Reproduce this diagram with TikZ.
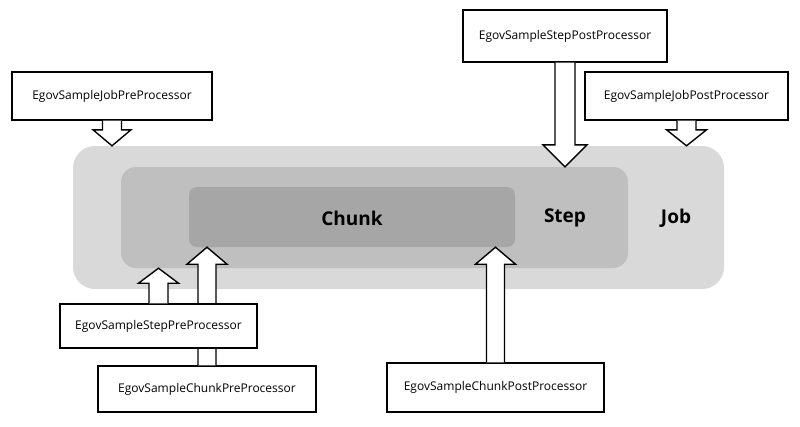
\documentclass[tikz,border=0pt]{standalone}
\usepackage{fontspec}
\setmainfont{Open Sans}
\usetikzlibrary{calc}
\definecolor{jobc}{HTML}{D9D9D9}
\definecolor{stepc}{HTML}{BFBFBF}
\definecolor{chunkc}{HTML}{A6A6A6}
% block arrow: #1 start, #2 tip, #3 half shaft, #4 half head, #5 head length
\newcommand\blockarr[5]{%
  \draw[arr] let \p1=(#1), \p2=(#2), \n1={ifthenelse(\y2>\y1,1,-1)} in
    ({\x1-#3},\y1) -- ({\x1-#3},{\y2-\n1*#5}) -- ({\x1-#4},{\y2-\n1*#5}) -- (\x1,\y2)
    -- ({\x1+#4},{\y2-\n1*#5}) -- ({\x1+#3},{\y2-\n1*#5}) -- ({\x1+#3},\y1);}
\begin{document}
\begin{tikzpicture}[x=1pt,y=-1pt,
  box/.style={draw=black, line width=1.4pt, fill=white, inner sep=0pt,
    font=\fontsize{12}{14}\selectfont},
  lbl/.style={font=\fontsize{19}{22}\selectfont\bfseries, inner sep=0pt},
  arr/.style={draw=black, line width=1.4pt, fill=white, line join=miter}]
\useasboundingbox (0,0) rectangle (800,426);
% containers
\node[fill=jobc, rounded corners=22pt, minimum width=651pt, minimum height=143pt] (job) at (398.5,217.5) {};
\node[fill=stepc, rounded corners=15pt, minimum width=507pt, minimum height=101pt] (step) at (374.5,217.5) {};
\node[fill=chunkc, rounded corners=8pt, minimum width=326pt, minimum height=60pt] (chunk) at (352,217) {};
\node[lbl] (chunklbl) at (352,218) {Chunk};
\node[lbl] (steplbl) at (565,218) {Step};
\node[lbl] (joblbl) at (676,218) {Job};
% processors (top)
\node[box, minimum width=200pt, minimum height=48pt] (jobpre) at (112,96) {EgovSampleJobPreProcessor};
\node[box, minimum width=204pt, minimum height=52pt] (steppost) at (565,36) {EgovSampleStepPostProcessor};
\node[box, minimum width=203pt, minimum height=48pt] (jobpost) at (686.5,96) {EgovSampleJobPostProcessor};
\blockarr{jobpre.south}{$(jobpre.south |- job.north)$}{9.5pt}{19pt}{16pt}
\blockarr{steppost.south}{$(steppost.south |- step.north)$}{10pt}{22pt}{22pt}
\blockarr{jobpost.south}{$(jobpost.south |- job.north)$}{9.5pt}{20pt}{16pt}
% processors (bottom)
\node[box, minimum width=218pt, minimum height=46pt] (chunkpre) at (207,389) {EgovSampleChunkPreProcessor};
\blockarr{chunkpre.north}{$(chunkpre.north |- chunk.south)$}{9pt}{20pt}{17pt}
\node[box, minimum width=197pt, minimum height=44pt] (steppre) at (158.5,326) {EgovSampleStepPreProcessor};
\blockarr{steppre.north}{$(steppre.north |- step.south)$}{9.5pt}{20pt}{15pt}
\node[box, minimum width=217pt, minimum height=49pt] (chunkpost) at (495.5,387.5) {EgovSampleChunkPostProcessor};
\blockarr{chunkpost.north}{$(chunkpost.north |- chunk.south)$}{9pt}{20pt}{17pt}
\end{tikzpicture}
\end{document}
